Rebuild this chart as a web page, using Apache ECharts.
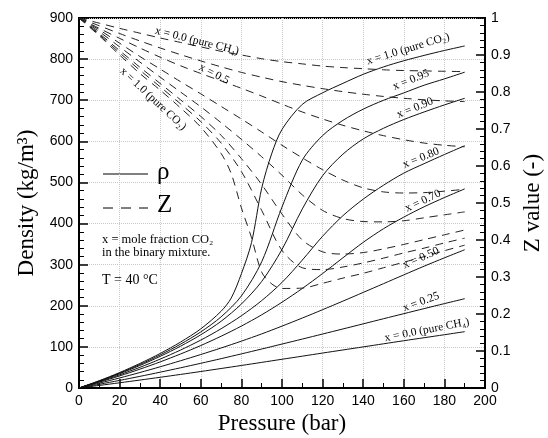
<!DOCTYPE html>
<html><head><meta charset="utf-8">
<script src="https://cdn.jsdelivr.net/npm/echarts@6/dist/echarts.min.js"></script>
<style>html,body{margin:0;padding:0;background:#fff}#c{width:548px;height:438px}</style>
</head><body><div id="c"></div>
<script>
// Pressure grid (bar)
const pressure = [0,10,20,30,40,50,60,70,80,90,100,110,120,130,140,150,160,170,180,190];
const pressureCO2 = [0,10,20,30,40,50,60,70,75,80,85,90,95,100,110,120,130,140,150,160,170,180,190];

// Density (kg/m3) per CO2 mole fraction
const rhoX000 = [0,6.25,12.69,19.29,26.07,33.0,40.12,47.42,54.8,62.3,69.9,77.4,85.0,92.5,100.0,107.5,115.0,122.3,129.6,137.0];
const rhoX025 = [0,9.04,18.48,28.30,38.52,49.11,60.07,71.37,83.0,94.82,106.9,119.0,131.3,143.6,156.0,168.5,180.8,193.1,205.3,217.2];
const rhoX050 = [0,11.87,24.42,37.67,51.63,66.25,81.46,97.33,113.98,131.6,150.5,170.2,190.5,211.3,232.5,253.8,275.2,296.3,316.6,336.3];
const rhoX070 = [0,14.14,29.38,45.84,63.53,82.67,103.32,125.93,150.65,178.05,208.69,242.11,278.44,316.67,354.27,387.45,415.64,440.78,463.20,484.38];
const rhoX080 = [0,15.33,32.03,50.28,70.31,92.28,116.57,144.15,175.77,212.62,256.78,311.14,369.13,419.09,459.36,493.26,522.65,545.66,567.88,589.36];
const rhoX090 = [0,16.53,34.73,54.80,76.97,101.65,129.46,162.31,204.35,259.15,336.96,435.52,516.42,568.73,605.79,631.80,653.07,671.39,688.57,704.69];
const rhoX095 = [0,17.15,36.15,57.19,80.47,106.61,136.46,173.15,223.93,307.03,440.19,554.23,614.06,651.0,678.25,699.79,717.81,736.44,751.91,768.21];
const rhoX100 = [0,17.77,37.59,59.7,84.0,111.7,143.9,186.7,219,278,354,486,571,629,690,718,741,763,781,796,809,821,832];

// Compressibility factor Z per CO2 mole fraction
const zX000 = [1,0.986,0.972,0.959,0.946,0.934,0.922,0.91,0.9,0.89,0.882,0.876,0.87,0.866,0.863,0.86,0.858,0.857,0.856,0.855];
const zX025 = [1,0.979,0.958,0.938,0.919,0.901,0.884,0.868,0.853,0.84,0.828,0.818,0.809,0.801,0.794,0.788,0.783,0.779,0.776,0.774];
const zX050 = [1,0.972,0.945,0.919,0.894,0.871,0.85,0.83,0.81,0.789,0.767,0.746,0.727,0.71,0.695,0.682,0.671,0.662,0.656,0.652];
const zX070 = [1,0.968,0.932,0.896,0.862,0.828,0.795,0.761,0.727,0.692,0.656,0.622,0.590,0.562,0.541,0.530,0.527,0.528,0.532,0.537];
const zX080 = [1,0.963,0.922,0.881,0.840,0.800,0.760,0.717,0.672,0.625,0.575,0.522,0.480,0.458,0.450,0.449,0.452,0.460,0.468,0.476];
const zX090 = [1,0.958,0.912,0.867,0.823,0.779,0.734,0.683,0.620,0.550,0.470,0.400,0.368,0.362,0.366,0.376,0.388,0.401,0.414,0.427];
const zX095 = [1,0.955,0.906,0.859,0.814,0.768,0.720,0.662,0.585,0.48,0.372,0.325,0.320,0.327,0.338,0.351,0.365,0.378,0.392,0.405];
const zX100 = [1,0.952,0.900,0.850,0.805,0.757,0.705,0.634,0.579,0.487,0.406,0.313,0.281,0.269,0.270,0.283,0.297,0.310,0.325,0.340,0.355,0.371,0.386];

const xTicks = [0,20,40,60,80,100,120,140,160,180,200];

const SERIF = 'Liberation Serif, Times New Roman, serif';
const SANS = 'Liberation Sans, Arial, sans-serif';

const rhoSets = [rhoX000,rhoX025,rhoX050,rhoX070,rhoX080,rhoX090,rhoX095,rhoX100];
const zSets = [zX000,zX025,zX050,zX070,zX080,zX090,zX095,zX100];
const pSets = [pressure,pressure,pressure,pressure,pressure,pressure,pressure,pressureCO2];

function pairs(p, v){ return p.map((x,i)=>[x, v[i]]); }

const series = [];
rhoSets.forEach((r,i)=>{
  series.push({type:'line', yAxisIndex:0, data:pairs(pSets[i], r), showSymbol:false, smooth:0.3,
    lineStyle:{color:'#111', width:1}, silent:true});
});
zSets.forEach((z,i)=>{
  series.push({type:'line', yAxisIndex:1, data:pairs(pSets[i], z), showSymbol:false, smooth:0.3,
    lineStyle:{color:'#222', width:1, type:[8,6]}, silent:true});
});

function txt(t, x, y, deg, size, align){
  return {type:'text', x:x, y:y, rotation: deg*Math.PI/180, z:100,
    style:{text:t, fill:'#000', font: size+'px '+SERIF, align: align||'center', verticalAlign:'middle'}};
}

const graphics = [
  txt('x = 1.0 (pure CO₂)', 408, 49, 17, 11.5),
  txt('x = 0.95', 411, 80, 22, 11.5),
  txt('x = 0.90', 415, 108, 22, 11.5),
  txt('x = 0.80', 421, 158, 22, 11.5),
  txt('x = 0.70', 423, 201, 25, 11.5),
  txt('x = 0.50', 421, 258, 24, 11.5),
  txt('x = 0.25', 421, 302, 20, 11.5),
  txt('x = 0.0 (pure CH₄)', 427, 330, 11, 11.5),
  txt('x = 0.0 (pure CH₄)', 197, 41, -14, 11.5),
  txt('x = 0.5', 214, 74, -27, 11.5),
  txt('x = 1.0 (pure CO₂)', 153, 99, -43, 11.5),
  {type:'line', shape:{x1:103,y1:174,x2:148,y2:174}, style:{stroke:'#000', lineWidth:1}},
  txt('ρ', 157, 172, 0, 25, 'left'),
  {type:'line', shape:{x1:103,y1:208,x2:148,y2:208}, style:{stroke:'#000', lineWidth:1, lineDash:[10,8]}},
  txt('Z', 157, 205, 0, 25, 'left'),
  txt('x = mole fraction CO₂', 102, 240, 0, 12.5, 'left'),
  txt('in the binary mixture.', 102, 253, 0, 12.5, 'left'),
  txt('T = 40 °C', 102, 280, 0, 14, 'left')
];

const tickStyle = {color:'#000', width:1.5};
const chart = echarts.init(document.getElementById('c'), null, {renderer:'canvas'});
chart.setOption({
  animation:false,
  backgroundColor:'#fff',
  grid:{left:79, right:63, top:18, bottom:50, outerBoundsMode:'none', containLabel:false,
    show:true, borderColor:'#000', borderWidth:2, backgroundColor:'transparent'},
  xAxis:{type:'value', min:xTicks[0], max:xTicks[xTicks.length-1], interval:20,
    axisLine:{show:true, onZero:false, lineStyle:{color:'#000', width:2}},
    axisTick:{show:true, inside:true, length:9, lineStyle:tickStyle},
    minorTick:{show:true, splitNumber:2, length:5, lineStyle:{color:'#000', width:1}},
    axisLabel:{color:'#000', fontFamily:SANS, fontSize:14, margin:6},
    splitLine:{show:true, lineStyle:{color:'#c8c8c8', type:'dotted', width:1}},
    name:'Pressure (bar)', nameLocation:'middle', nameGap:15,
    nameTextStyle:{fontFamily:SERIF, fontSize:23, color:'#000'}},
  yAxis:[
    {type:'value', min:0, max:900, interval:100, position:'left',
      axisLine:{show:true, onZero:false, lineStyle:{color:'#000', width:2}},
      axisTick:{show:true, inside:true, length:9, lineStyle:tickStyle},
      minorTick:{show:true, splitNumber:5, length:5, lineStyle:{color:'#000', width:1}},
      axisLabel:{color:'#000', fontFamily:SANS, fontSize:14, margin:6},
      splitLine:{show:true, lineStyle:{color:'#c8c8c8', type:'dotted', width:1}},
      name:'Density (kg/m³)', nameLocation:'middle', nameGap:40,
      nameTextStyle:{fontFamily:SERIF, fontSize:23, color:'#000'}},
    {type:'value', min:0, max:1, interval:0.1, position:'right',
      axisLine:{show:true, onZero:false, lineStyle:{color:'#000', width:2}},
      axisTick:{show:true, inside:true, length:9, lineStyle:tickStyle},
      minorTick:{show:true, splitNumber:5, length:5, lineStyle:{color:'#000', width:1}},
      axisLabel:{color:'#000', fontFamily:SANS, fontSize:14, margin:6,
        formatter:(v)=>String(Number(v.toFixed(1)))},
      splitLine:{show:false},
      name:'Z value (-)', nameLocation:'middle', nameGap:36, nameRotate:90,
      nameTextStyle:{fontFamily:SERIF, fontSize:23, color:'#000'}}
  ],
  graphic: graphics,
  series: series
});
</script></body></html>
